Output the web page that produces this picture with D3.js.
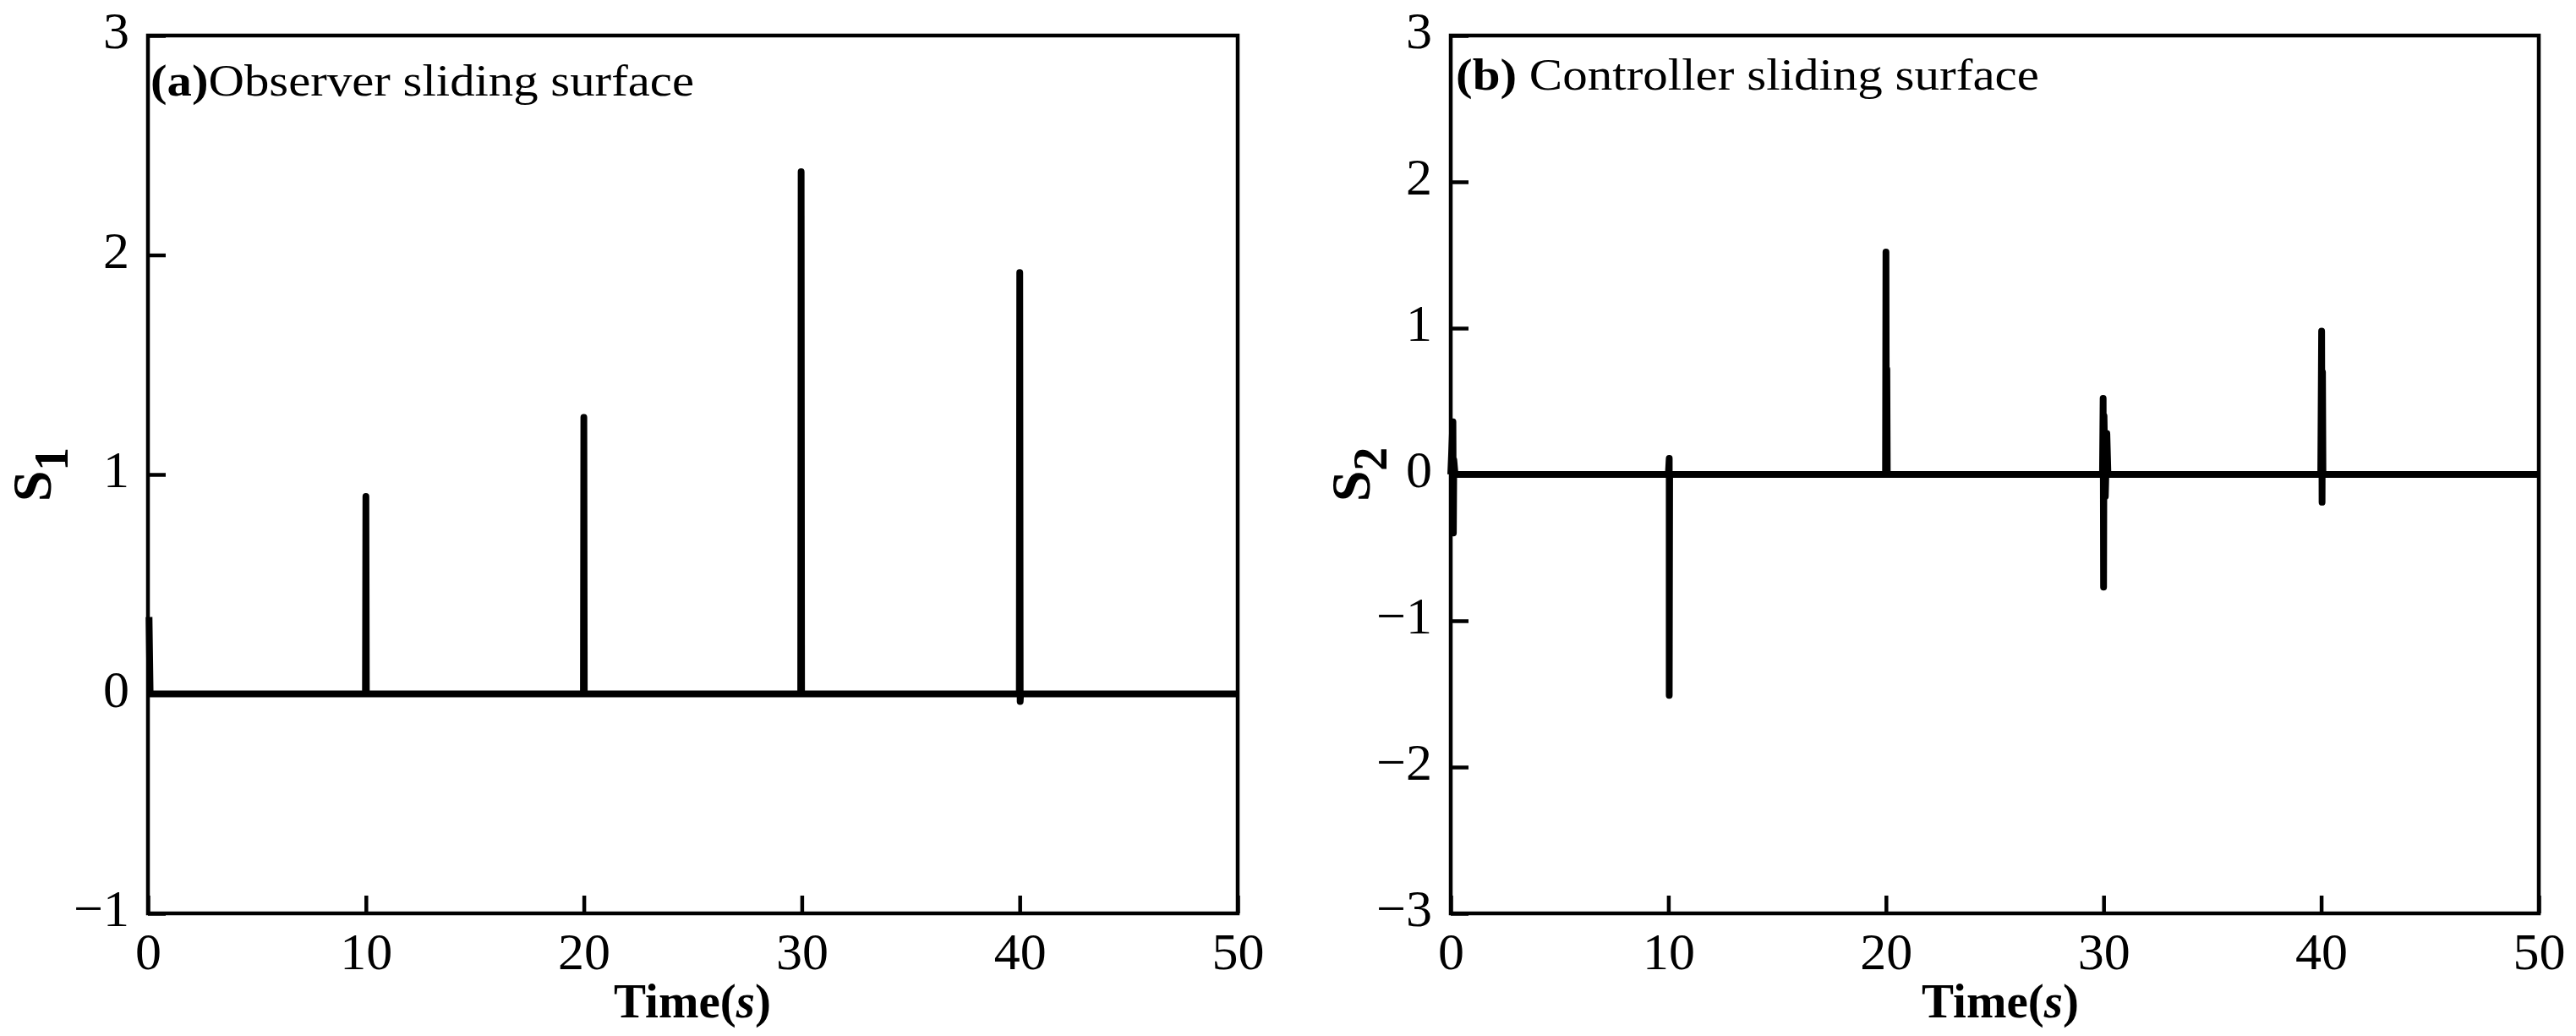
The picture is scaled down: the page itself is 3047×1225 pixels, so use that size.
<!DOCTYPE html>
<html>
<head>
<meta charset="utf-8">
<script src="https://cdn.jsdelivr.net/npm/d3@7"></script>
<style>
  html, body { margin: 0; padding: 0; background: #fff; }
  svg { display: block; }
  text { font-family: "Palatino Linotype", "Book Antiqua", Palatino, "Liberation Serif", serif; fill: #000; }
</style>
</head>
<body>
<svg id="chart" width="3047" height="1225"></svg>
<script>
// ---- Data ----
const xTicks = [0, 10, 20, 30, 40, 50];
const s1Ticks = [-1, 0, 1, 2, 3];
const s2Ticks = [-3, -2, -1, 0, 1, 2, 3];

// (a) Observer sliding surface: time (s) and value
const s1Time  = [0.05, 0.1, 9.98, 10.0, 10.02, 19.98, 20.0, 20.02, 29.95, 29.97, 29.99, 39.98, 40.0, 40.02, 40.04, 50];
const s1Value = [0.35, 0,   0,    0.90, 0,     0,     1.26, 0,     0,     2.38,  0,     0,     1.92, -0.035, 0,    0];

// (b) Controller sliding surface
const s2Time  = [0, 0.1, 0.12, 0.14, 0.2, 10.0, 10.04, 10.04, 10.06, 19.98, 20.0, 20.02, 20.04, 20.06,
                 29.95, 29.98, 30.0, 30.02, 30.08, 30.15, 30.2, 39.98, 40.02, 40.04, 40.06, 40.08, 50];
const s2Value = [0, 0.36, -0.40, 0.1, 0, 0, 0.11, -1.51, 0, 0, 1.52, 0, 0.72, 0,
                 0, 0.52, -0.77, 0.40, -0.15, 0.28, 0, 0, 0.98, -0.19, 0.70, 0, 0];

const panels = [
  { time: s1Time, value: s1Value, yDomain: [-1, 3], yTicks: s1Ticks,
    x0: 175, x1: 1464, title: ["(a)", "Observer sliding surface"], titleY: 113, titleX: 178, titleW: 643,
    ylabSub: "1", ylabX: 60, xlabX: 819 },
  { time: s2Time, value: s2Value, yDomain: [-3, 3], yTicks: s2Ticks,
    x0: 1716, x1: 3003, title: ["(b) ", "Controller sliding surface"], titleY: 106, titleX: 1722, titleW: 690,
    ylabSub: "2", ylabX: 1620, xlabX: 2366 }
];

const yTop = 42, yBot = 1080;
const svg = d3.select("#chart");
svg.append("rect").attr("width", 3047).attr("height", 1225).attr("fill", "#fff");

panels.forEach(p => {
  const x = d3.scaleLinear().domain([0, 50]).range([p.x0, p.x1]);
  const y = d3.scaleLinear().domain(p.yDomain).range([yBot, yTop]);
  const g = svg.append("g");

  // data line
  const line = d3.line().x((d, i) => x(p.time[i])).y((d, i) => y(p.value[i]));
  g.append("path")
    .datum(p.time)
    .attr("d", line)
    .attr("fill", "none")
    .attr("stroke", "#000")
    .attr("stroke-width", 8)
    .attr("stroke-linejoin", "round")
    .attr("stroke-linecap", "butt");

  // axes
  const xAxis = d3.axisBottom(x).tickValues(xTicks).tickSizeInner(-21).tickSizeOuter(0)
    .tickPadding(22).tickFormat(d3.format("d"));
  const gx = g.append("g").attr("transform", `translate(0,${yBot})`).call(xAxis);
  const yAxis = d3.axisLeft(y).tickValues(p.yTicks).tickSizeInner(-21).tickSizeOuter(0)
    .tickPadding(22).tickFormat(d3.format("d"));
  const gy = g.append("g").attr("transform", `translate(${p.x0},0)`).call(yAxis);
  [gx, gy].forEach(a => {
    a.select(".domain").remove();
    a.selectAll(".tick line").attr("stroke", "#000").attr("stroke-width", 4.5);
    a.selectAll(".tick text").attr("font-size", 62).attr("font-family", null).style("fill", "#000");
  });
  gy.selectAll(".tick text").attr("dy", "0.24em");
  gx.selectAll(".tick text").attr("dy", "0.71em");

  // frame
  g.append("rect")
    .attr("x", p.x0).attr("y", yTop)
    .attr("width", p.x1 - p.x0).attr("height", yBot - yTop)
    .attr("fill", "none").attr("stroke", "#000").attr("stroke-width", 4.5);

  // title
  const t = g.append("text")
    .attr("x", p.titleX).attr("y", p.titleY)
    .attr("font-size", 52)
    .attr("textLength", p.titleW).attr("lengthAdjust", "spacingAndGlyphs");
  t.append("tspan").attr("font-weight", "bold").text(p.title[0]);
  t.append("tspan").text(p.title[1]);

  // x label
  const xl = g.append("text")
    .attr("x", p.xlabX).attr("y", 1203)
    .attr("text-anchor", "middle").attr("font-size", 57).attr("font-weight", "bold");
  xl.append("tspan").text("Time(");
  xl.append("tspan").attr("font-style", "italic").text("s");
  xl.append("tspan").text(")");

  // y label
  const yl = g.append("text")
    .attr("transform", `translate(${p.ylabX},561) rotate(-90)`)
    .attr("text-anchor", "middle").attr("font-size", 66).attr("font-weight", "bold");
  yl.append("tspan").text("S");
  yl.append("tspan").attr("font-size", 56).attr("dy", 20).text(p.ylabSub);
});
</script>
</body>
</html>
